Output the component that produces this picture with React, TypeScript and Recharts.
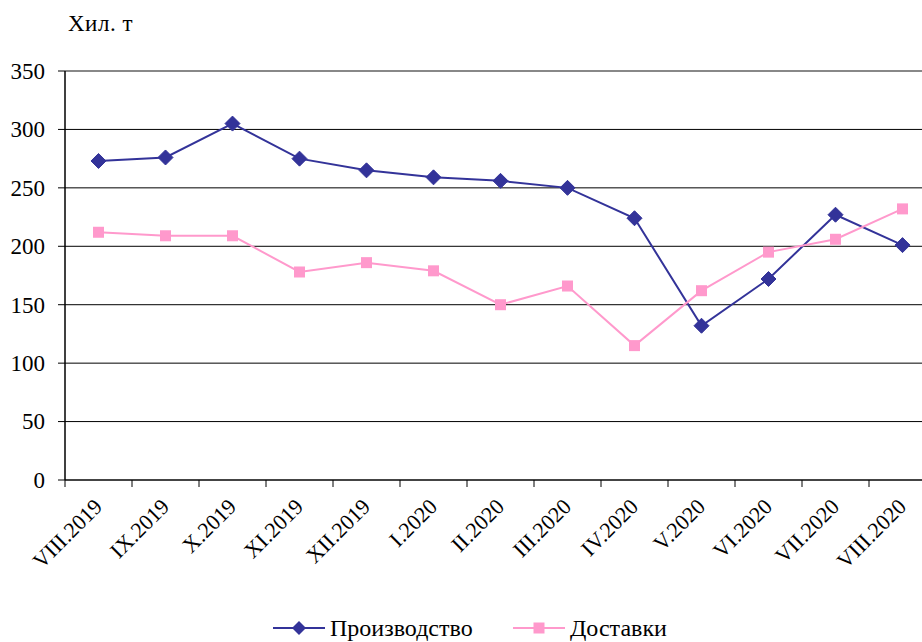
import React from 'react';
import { LineChart, Line, XAxis, YAxis, CartesianGrid, ReferenceLine } from 'recharts';

const categories = ['VIII.2019', 'IX.2019', 'X.2019', 'XI.2019', 'XII.2019', 'I.2020', 'II.2020', 'III.2020', 'IV.2020', 'V.2020', 'VI.2020', 'VII.2020', 'VIII.2020'];
const production = [273, 276, 305, 275, 265, 259, 256, 250, 224, 132, 172, 227, 201];
const deliveries = [212, 209, 209, 178, 186, 179, 150, 166, 115, 162, 195, 206, 232];
const yTicks = [0, 50, 100, 150, 200, 250, 300, 350];
const seriesNames = ['Производство', 'Доставки'];
const yTitle = 'Хил. т';

const data = categories.map((c, i) => ({ cat: c, prod: production[i], del: deliveries[i] }));

const CHART_W = 950;
const CHART_H = 642;
const Y_W = 65;
const M_RIGHT = 14;
const M_TOP = 71;
const X_H = 162;
const PLOT_W = CHART_W - Y_W - M_RIGHT;
const HALF = PLOT_W / categories.length / 2;
const FONT = '"Liberation Serif", "Times New Roman", Times, serif';
const BLUE = '#333399';
const PINK = '#FF99CC';

const XTick = (props: any) => {
  const { x, y, payload, index } = props;
  const last = index === categories.length - 1;
  return (
    <g>
      <line x1={x - HALF} x2={x - HALF} y1={y} y2={y + 7} stroke="#000" />
      {last && <line x1={x + HALF} x2={x + HALF} y1={y} y2={y + 7} stroke="#000" />}
      <text
        transform={`translate(${x + 5},${y + 28}) rotate(-45)`}
        textAnchor="end"
        fontFamily={FONT}
        fontSize={22}
        fill="#000"
      >
        {payload.value}
      </text>
    </g>
  );
};

const YTick = (props: any) => {
  const { x, y, payload } = props;
  return (
    <text x={x} y={y} textAnchor="end" dy="0.34em" fontFamily={FONT} fontSize={23} fill="#000">
      {payload.value}
    </text>
  );
};

const Diamond = (props: any) => {
  const { cx, cy } = props;
  if (cx == null || cy == null) return null;
  const r = 7.5;
  return <polygon points={`${cx},${cy - r} ${cx + r},${cy} ${cx},${cy + r} ${cx - r},${cy}`} fill={BLUE} stroke={BLUE} />;
};

const Square = (props: any) => {
  const { cx, cy } = props;
  if (cx == null || cy == null) return null;
  const s = 5.5;
  return <rect x={cx - s} y={cy - s} width={2 * s} height={2 * s} fill={PINK} />;
};

const LegendItem = ({ color, label, kind, left }: any) => (
  <div style={{ position: 'absolute', left, top: 615, height: 26, display: 'flex', alignItems: 'center' }}>
    <svg width={54} height={26}>
      <line x1={0} x2={52} y1={13} y2={13} stroke={color} strokeWidth={2} />
      {kind === 'diamond' ? (
        <polygon points="26,6 33,13 26,20 19,13" fill={color} />
      ) : (
        <rect x={20.5} y={7.5} width={11} height={11} fill={color} />
      )}
    </svg>
    <span style={{ fontFamily: FONT, fontSize: 24, color: '#000', whiteSpace: 'nowrap', marginLeft: 3, lineHeight: 1 }}>
      {label}
    </span>
  </div>
);

export default function App() {
  return (
    <div style={{ position: 'fixed', left: 0, top: 0, width: 922, height: 642, overflow: 'hidden', background: '#fff' }}>
      <div
        style={{
          position: 'absolute',
          left: 68,
          top: 12,
          fontFamily: FONT,
          fontSize: 23,
          letterSpacing: 0.5,
          lineHeight: 1,
          color: '#000',
          whiteSpace: 'pre',
        }}
      >
        {yTitle}
      </div>
      <LineChart width={CHART_W} height={CHART_H} data={data} margin={{ top: M_TOP, right: M_RIGHT, bottom: 0, left: 0 }}>
        <CartesianGrid vertical={false} stroke="#000" strokeWidth={1} />
        <ReferenceLine y={350} stroke="#888" strokeWidth={2} />
        <XAxis
          dataKey="cat"
          height={X_H}
          padding={{ left: HALF, right: HALF }}
          interval={0}
          tickLine={false}
          tickSize={0}
          tickMargin={0}
          axisLine={{ stroke: '#444', strokeWidth: 2 }}
          tick={<XTick />}
        />
        <YAxis
          width={Y_W}
          domain={[0, 350]}
          ticks={yTicks}
          interval={0}
          tickSize={7}
          tickMargin={13}
          axisLine={{ stroke: '#000', strokeWidth: 1.5 }}
          tickLine={{ stroke: '#000' }}
          tick={<YTick />}
        />
        <Line
          dataKey="prod"
          name={seriesNames[0]}
          stroke={BLUE}
          strokeWidth={2}
          dot={<Diamond />}
          activeDot={false}
          isAnimationActive={false}
        />
        <Line
          dataKey="del"
          name={seriesNames[1]}
          stroke={PINK}
          strokeWidth={2}
          dot={<Square />}
          activeDot={false}
          isAnimationActive={false}
        />
      </LineChart>
      <LegendItem color={BLUE} label={seriesNames[0]} kind="diamond" left={273} />
      <LegendItem color={PINK} label={seriesNames[1]} kind="square" left={513} />
    </div>
  );
}
